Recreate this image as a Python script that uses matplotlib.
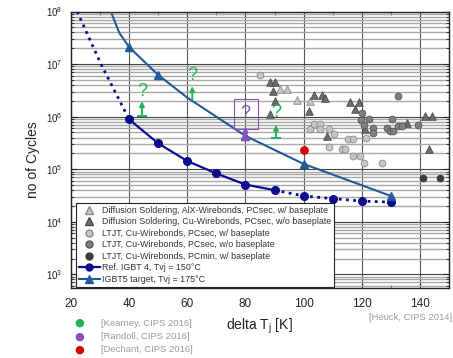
import matplotlib
matplotlib.use("Agg")
import matplotlib.pyplot as plt
from matplotlib.lines import Line2D
from matplotlib.patches import Rectangle
from matplotlib.ticker import FixedLocator, LogLocator, NullFormatter, FuncFormatter

# ---- data ----
ref_x = [40, 50, 60, 70, 80, 90]
ref_y = [8.85e5, 3.1e5, 1.43e5, 8.3e4, 5.1e4, 4.0e4]
ref_ext_hi_x = [22.1, 30.3, 40]
ref_ext_hi_y = [1e8, 1e7, 8.85e5]
ref_ext_lo_x = [90, 100, 110, 120, 130]
ref_ext_lo_y = [4.0e4, 3.1e4, 2.76e4, 2.47e4, 2.37e4]

ig5_x = [33.7, 36.6, 40, 50, 60, 80, 100, 130]
ig5_y = [1e8, 3.94e7, 2.1e7, 6.2e6, 2.3e6, 4.3e5, 1.26e5, 3.1e4]
ig5_marked = [2, 3, 5, 6, 7]

alx_tri_x = [91.8, 94.3, 97.7, 102.3]
alx_tri_y = [3.3e6, 3.3e6, 2.05e6, 2.0e6]

cu_tri_x = [88.3, 90.0, 89.4, 90.3, 88.6, 103.4, 106.3, 107.4, 102.0, 108.0,
            116.0, 119.2, 117.5, 121.0, 135.4, 141.7, 144.2, 143.1]
cu_tri_y = [4.6e6, 4.6e6, 3.05e6, 2.0e6, 1.14e6, 2.6e6, 2.6e6, 2.3e6, 1.3e6, 4.3e5,
            1.9e6, 1.9e6, 1.37e6, 5.7e5, 7.6e5, 1.05e6, 1.05e6, 2.45e5]

ltjt_w_x = [85.1, 102.3, 103.6, 105.7, 105.7, 108.6, 110.3, 108.6, 113.1, 114.3,
            115.4, 116.9, 117.1, 119.4, 120.8, 127.1, 121.5]
ltjt_w_y = [6.2e6, 5.9e5, 7.3e5, 7.3e5, 5.9e5, 5.9e5, 4.7e5, 2.6e5, 2.46e5, 2.46e5,
            3.7e5, 3.7e5, 1.78e5, 1.78e5, 1.29e5, 1.29e5, 4.0e5]

ltjt_wo_x = [120.0, 122.6, 119.7, 120.6, 124.0, 124.0, 128.6, 130.3, 129.7, 130.8,
             132.6, 133.7, 139.4, 132.6]
ltjt_wo_y = [1.19e6, 9.1e5, 8.5e5, 6.8e5, 6.2e5, 4.9e5, 6.2e5, 8.9e5, 5.3e5, 5.3e5,
             6.6e5, 6.6e5, 6.9e5, 2.5e6]

ltjt_min_x = [141.1, 146.8]
ltjt_min_y = [6.7e4, 6.7e4]

# Kearney arrows: x, base, head, "?" position
kearney_x = [44.4, 61.7, 90.5]
kearney_base = [1.05e6, 2.1e6, 4.0e5]
kearney_head = [1.97e6, 3.8e6, 7.0e5]
kearney_q = [3.05e6, 6.0e6, 1.2e6]
kearney_bar = [True, False, True]

randoll_x = 80
randoll_base = 4.3e5
randoll_head = 6.4e5
randoll_q = 1.15e6
randoll_box = (76.2, 84.2, 5.7e5, 2.18e6)

dechant_x = [100.2]
dechant_y = [2.3e5]

legend_labels = [
    "Diffusion Soldering, AlX-Wirebonds, PCsec, w/ baseplate",
    "Diffusion Soldering, Cu-Wirebonds, PCsec, w/o baseplate",
    "LTJT, Cu-Wirebonds, PCsec, w/ baseplate",
    "LTJT, Cu-Wirebonds, PCsec, w/o baseplate",
    "LTJT, Cu-Wirebonds, PCmin, w/ baseplate",
    "Ref. IGBT 4, Tvj = 150°C",
    "IGBT5 target, Tvj = 175°C",
]
refs = ["[Kearney, CIPS 2016]", "[Randoll, CIPS 2016]", "[Dechant, CIPS 2016]"]

# ---- style ----
REF_C = "#0b0b8f"
IG5_C = "#1f5b98"
GREEN = "#22b35a"
PURPLE = "#8a4fbf"
RED = "#d40000"
LT_FILL, LT_EDGE = "#c6c6c6", "#8a8a8a"
DK_FILL, DK_EDGE = "#6c6c6c", "#4a4a4a"
MD_FILL, MD_EDGE = "#808080", "#555555"
MIN_FILL = "#3a3a3a"

plt.rcParams["font.family"] = ["Liberation Sans", "DejaVu Sans"]

fig = plt.figure(figsize=(4.53, 3.58), dpi=100)
ax = fig.add_axes([71 / 453, 1 - 288 / 358, 378 / 453, 276.5 / 358])
ax.set_yscale("log")
ax.set_xlim(20, 150)
ax.set_ylim(5.5e2, 1e8)

ax.xaxis.set_major_locator(FixedLocator([20, 40, 60, 80, 100, 120, 140]))
ax.xaxis.set_minor_locator(FixedLocator([30, 50, 70, 90, 110, 130, 150]))
ax.yaxis.set_major_locator(FixedLocator([1e3, 1e4, 1e5, 1e6, 1e7, 1e8]))
ax.yaxis.set_minor_locator(LogLocator(base=10, subs=range(2, 10), numticks=20))
ax.yaxis.set_minor_formatter(NullFormatter())
ax.yaxis.set_major_formatter(FuncFormatter(
    lambda v, p: r"$\mathregular{10^{%d}}$" % round(__import__("math").log10(v))))

ax.grid(True, which="major", axis="x", color="#555555", linewidth=0.8)
ax.grid(True, which="major", axis="y", color="#444444", linewidth=0.8)
ax.grid(True, which="minor", axis="y", color="#a8a8a8", linewidth=1.0)
ax.set_axisbelow(True)
ax.tick_params(which="both", direction="in", top=True, right=True, color="#222222")
ax.tick_params(which="major", length=4, width=0.8)
ax.tick_params(which="minor", length=2.5, width=0.6)
ax.tick_params(axis="x", labelsize=8.5, pad=7, labelcolor="#222222")
ax.tick_params(axis="y", labelsize=7, pad=6, labelcolor="#222222")
for s in ax.spines.values():
    s.set_color("#222222")
    s.set_linewidth(1.0)

# ---- scatter ----
ax.scatter(alx_tri_x, alx_tri_y, marker="^", s=30, c=LT_FILL, edgecolors=LT_EDGE, linewidths=0.6, zorder=3)
ax.scatter(cu_tri_x, cu_tri_y, marker="^", s=30, c=DK_FILL, edgecolors=DK_EDGE, linewidths=0.6, zorder=3)
ax.scatter(ltjt_w_x, ltjt_w_y, marker="o", s=24, c=LT_FILL, edgecolors=LT_EDGE, linewidths=0.6, zorder=3)
ax.scatter(ltjt_wo_x, ltjt_wo_y, marker="o", s=24, c=MD_FILL, edgecolors=MD_EDGE, linewidths=0.6, zorder=3)
ax.scatter(ltjt_min_x, ltjt_min_y, marker="o", s=24, c=MIN_FILL, edgecolors=MIN_FILL, linewidths=0.6, zorder=3)

# ---- curves ----
ax.plot(ref_ext_hi_x, ref_ext_hi_y, color=REF_C, linestyle=(0, (1, 1.6)), linewidth=2.0, zorder=4)
ax.plot(ref_ext_lo_x, ref_ext_lo_y, color=REF_C, linestyle=(0, (1, 1.6)), linewidth=2.0,
        marker="o", markersize=5.5, markevery=[1, 2, 3, 4], zorder=4)
ax.plot(ref_x, ref_y, color=REF_C, linewidth=1.6, marker="o", markersize=5.5, zorder=5)
ax.plot(ig5_x, ig5_y, color=IG5_C, linewidth=1.5, marker="^", markersize=6,
        markevery=ig5_marked, zorder=4)

# ---- Kearney / Randoll / Dechant marks ----
for x, b, h, q, bar in zip(kearney_x, kearney_base, kearney_head, kearney_q, kearney_bar):
    ax.annotate("", xy=(x, h), xytext=(x, b),
                arrowprops=dict(arrowstyle="-|>", color=GREEN, lw=1.4,
                                mutation_scale=7, shrinkA=0, shrinkB=0), zorder=6)
    if bar:
        ax.plot([x], [b], marker="_", markersize=7, markeredgewidth=1.4, color=GREEN, zorder=6)
    ax.text(x, q, "?", color=GREEN, fontsize=13, ha="center", va="center", zorder=6)

ax.annotate("", xy=(randoll_x, randoll_head), xytext=(randoll_x, randoll_base),
            arrowprops=dict(arrowstyle="-|>", color=PURPLE, lw=1.4,
                            mutation_scale=7, shrinkA=0, shrinkB=0), zorder=6)
ax.plot([randoll_x], [randoll_base], marker="^", markersize=6, color=PURPLE, zorder=6)
bx0, bx1, by0, by1 = randoll_box
ax.add_patch(Rectangle((bx0, by0), bx1 - bx0, by1 - by0, fill=False,
                       edgecolor=PURPLE, linewidth=0.8, zorder=6))
ax.text(randoll_x, randoll_q, "?", color=PURPLE, fontsize=13, ha="center", va="center", zorder=6)

ax.scatter(dechant_x, dechant_y, marker="o", s=28, c=RED, edgecolors=RED, zorder=6)

# ---- legend ----
handles = [
    Line2D([], [], linestyle="", marker="^", markersize=5.5, markerfacecolor=LT_FILL, markeredgecolor=LT_EDGE),
    Line2D([], [], linestyle="", marker="^", markersize=5.5, markerfacecolor=DK_FILL, markeredgecolor=DK_EDGE),
    Line2D([], [], linestyle="", marker="o", markersize=5, markerfacecolor=LT_FILL, markeredgecolor=LT_EDGE),
    Line2D([], [], linestyle="", marker="o", markersize=5, markerfacecolor=MD_FILL, markeredgecolor=MD_EDGE),
    Line2D([], [], linestyle="", marker="o", markersize=5, markerfacecolor=MIN_FILL, markeredgecolor=MIN_FILL),
    Line2D([], [], color=REF_C, linewidth=1.6, marker="o", markersize=5),
    Line2D([], [], color=IG5_C, linewidth=1.5, marker="^", markersize=5.5),
]
leg = ax.legend(handles, legend_labels, loc="lower left", bbox_to_anchor=(0.012, 0.004),
                borderaxespad=0, fontsize=6.4, frameon=True, fancybox=False,
                handlelength=2.4, handletextpad=0.2, labelspacing=0.28,
                borderpad=0.35, framealpha=1)
leg.get_frame().set_edgecolor("#222222")
leg.get_frame().set_linewidth(0.8)
for t in leg.get_texts():
    t.set_color("#333333")
leg.set_zorder(7)

# ---- labels ----
fig.text(33 / 453, 1 - 160 / 358, "no of Cycles", rotation=90, fontsize=10,
         ha="center", va="center", color="#222222")
fig.text(259 / 453, 1 - 326 / 358, r"delta T$_\mathregular{j}$ [K]", fontsize=10,
         ha="center", va="center", color="#222222")
fig.text(452 / 453, 1 - 318 / 358, "[Heuck, CIPS 2014]", fontsize=6.8,
         ha="right", va="center", color="#9a9a9a")

for i, (lab, col) in enumerate(zip(refs, [GREEN, PURPLE, RED])):
    yy = 1 - (323 + 13.5 * i) / 358
    fig.text(79 / 453, yy, "\u25CF", fontsize=8, ha="center", va="center", color=col,
             family="DejaVu Sans")
    fig.text(101 / 453, yy, lab, fontsize=6.8, ha="left", va="center", color="#9a9a9a")

fig.savefig("out.png", dpi=100, facecolor="white")
